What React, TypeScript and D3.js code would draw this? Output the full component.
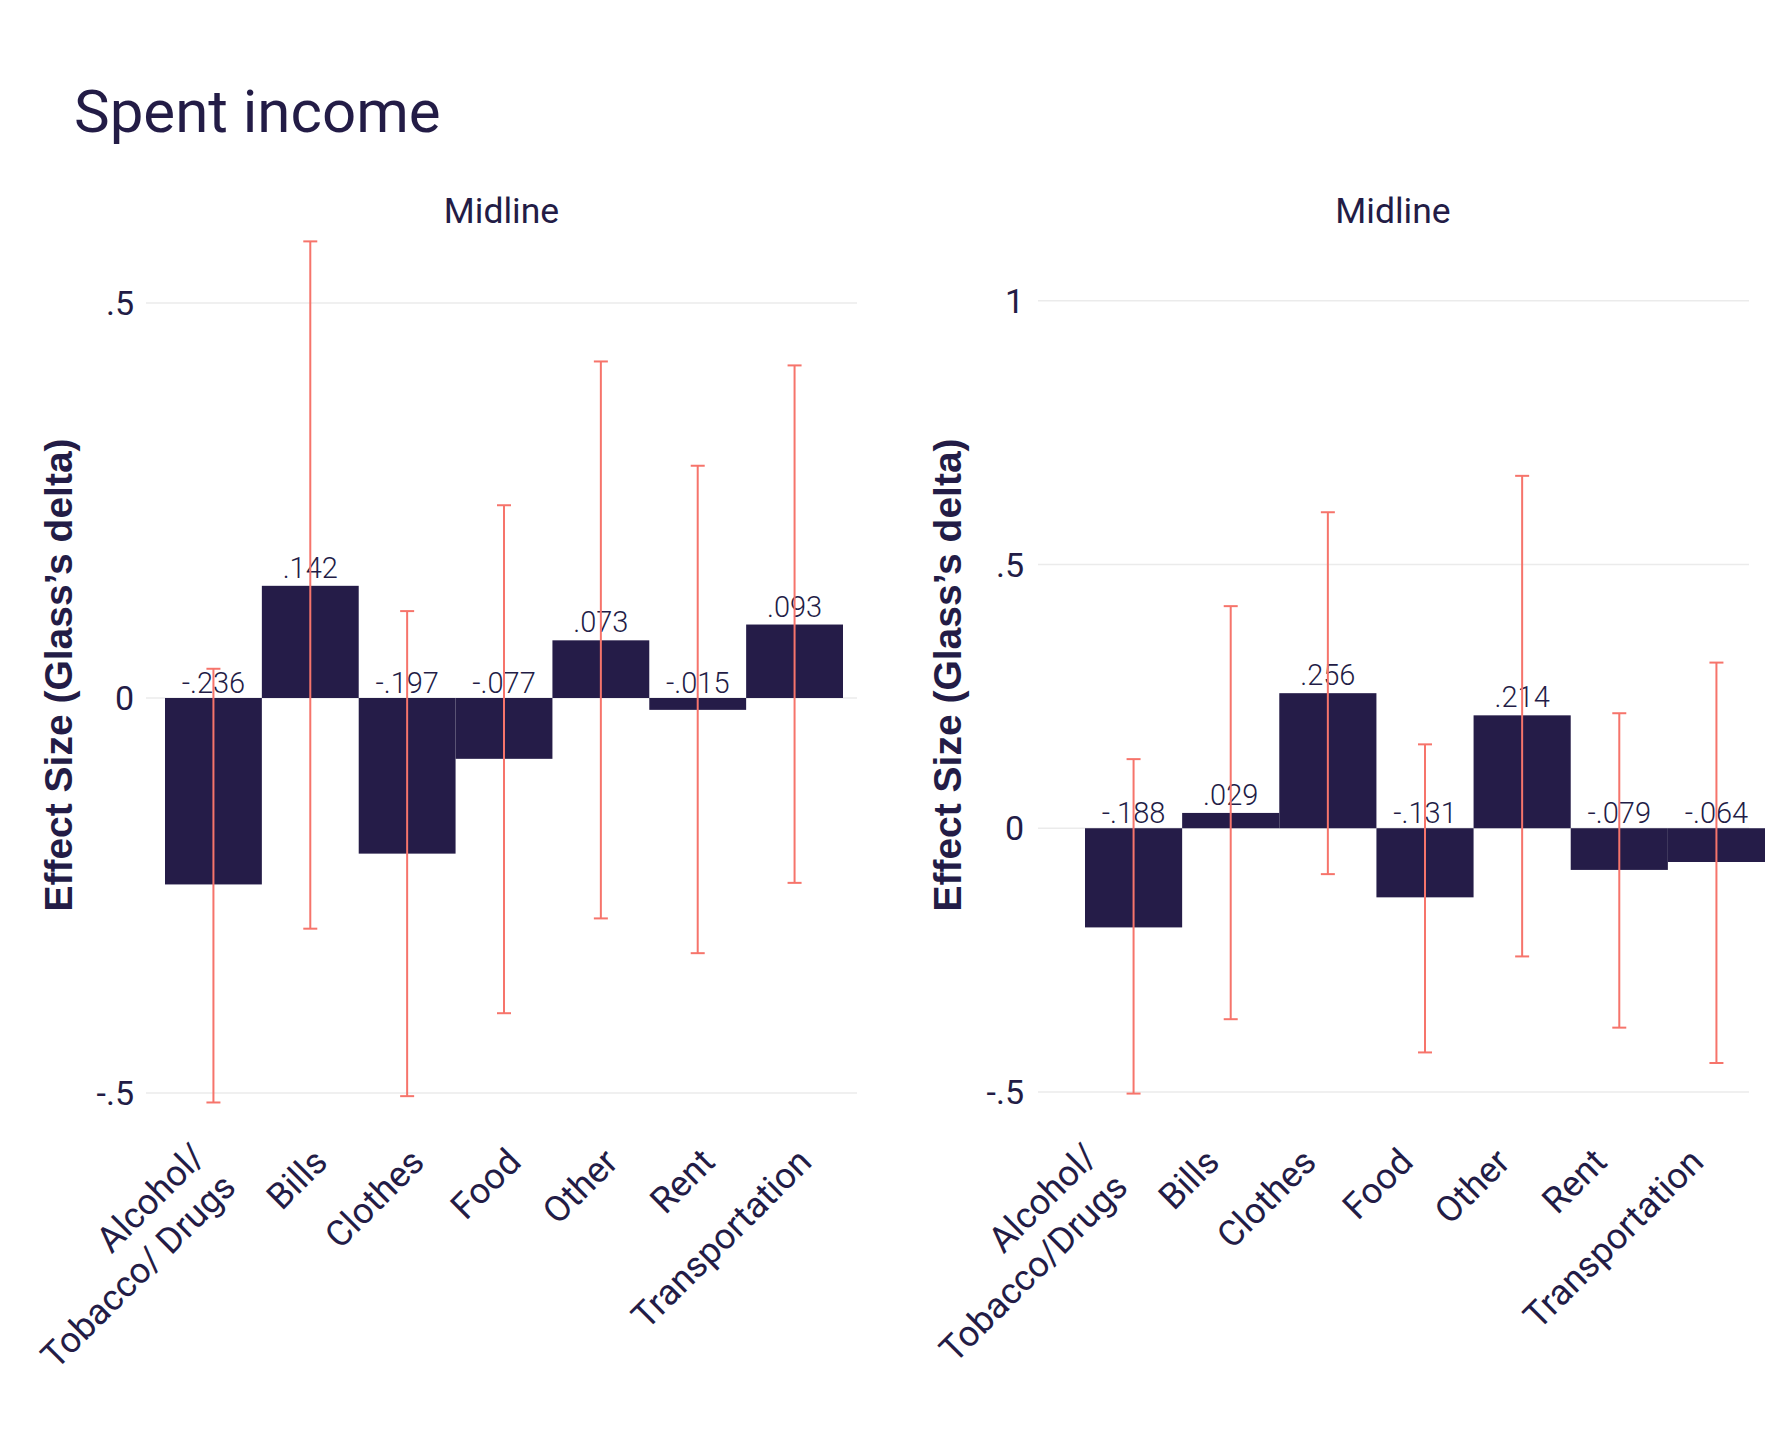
import React from "react";
import * as d3 from "d3";

// ---------- data ----------
const categories = ["Alcohol", "Bills", "Clothes", "Food", "Other", "Rent", "Transportation"];
const leftLabels = [["Alcohol/", "Tobacco/ Drugs"], ["Bills"], ["Clothes"], ["Food"], ["Other"], ["Rent"], ["Transportation"]];
const rightLabels = [["Alcohol/", "Tobacco/Drugs"], ["Bills"], ["Clothes"], ["Food"], ["Other"], ["Rent"], ["Transportation"]];

const leftValues = [-0.236, 0.142, -0.197, -0.077, 0.073, -0.015, 0.093];
const leftLower = [-0.512, -0.292, -0.504, -0.399, -0.279, -0.323, -0.234];
const leftUpper = [0.037, 0.578, 0.110, 0.244, 0.426, 0.294, 0.421];

const rightValues = [-0.188, 0.029, 0.256, -0.131, 0.214, -0.079, -0.064];
const rightLower = [-0.503, -0.362, -0.087, -0.425, -0.243, -0.378, -0.445];
const rightUpper = [0.131, 0.421, 0.599, 0.159, 0.668, 0.218, 0.314];

const leftTicks = [-0.5, 0, 0.5];
const rightTicks = [-0.5, 0, 0.5, 1];

const titleText = "Spent income";
const facetText = "Midline";
const yTitle = "Effect Size (Glass\u2019s delta)";

// ---------- style ----------
const INK = "#231c46";
const BAR = "#251c48";
const ERR = "#f6746b";
const GRID = "#ebebeb";
const FONT = "Roboto, 'Noto Sans', sans-serif";
const BOLD_FONT = "'Liberation Sans', Arial, sans-serif";

const stripZero = (s: string) => s.replace(/\u2212/g, "-").replace(/^(-?)0\./, "$1.");
const fmt = (v: number) => (v === 0 ? "0" : stripZero(d3.format(".3f")(v)));
const fmtTick = (v: number) => (v === 0 ? "0" : stripZero(d3.format("")(v)));

type PanelCfg = {
  values: number[];
  lower: number[];
  upper: number[];
  labels: string[][];
  ticks: number[];
  yDomain: [number, number];
  yRange: [number, number];
  gridX: [number, number];
  barRange: [number, number];
  labelRange: [number, number];
  tickX: number;
  yTitleX: number;
  facetX: number;
};

const panels: PanelCfg[] = [
  {
    values: leftValues,
    lower: leftLower,
    upper: leftUpper,
    labels: leftLabels,
    ticks: leftTicks,
    yDomain: [-0.5, 0.5],
    yRange: [1093, 303],
    gridX: [146, 857],
    barRange: [165, 843],
    labelRange: [165, 843],
    tickX: 134,
    yTitleX: 72,
    facetX: 501.5,
  },
  {
    values: rightValues,
    lower: rightLower,
    upper: rightUpper,
    labels: rightLabels,
    ticks: rightTicks,
    yDomain: [-0.5, 1],
    yRange: [1092, 300.7],
    gridX: [1038, 1749],
    barRange: [1085, 1765],
    labelRange: [1057, 1735],
    tickX: 1024,
    yTitleX: 961,
    facetX: 1393,
  },
];

function Panel({ p }: { p: PanelCfg }) {
  const y = d3.scaleLinear().domain(p.yDomain).range(p.yRange);
  const xb = d3.scaleBand<string>().domain(categories).range(p.barRange).padding(0);
  const xl = d3.scaleBand<string>().domain(categories).range(p.labelRange).padding(0);
  const y0 = y(0);
  const yMid = 675;
  const lineH = 43;
  return (
    <g>
      <text x={p.facetX} y={223} textAnchor="middle" fontFamily={FONT} fontSize={35.5} fill={INK}>
        {facetText}
      </text>
      {p.ticks.map((t) => (
        <g key={t}>
          <line x1={p.gridX[0]} x2={p.gridX[1]} y1={y(t)} y2={y(t)} stroke={GRID} strokeWidth={1.4} />
          <text x={p.tickX} y={y(t)} dy="0.36em" textAnchor="end" fontFamily={FONT} fontSize={34} fill={INK}>
            {fmtTick(t)}
          </text>
        </g>
      ))}
      <text
        transform={`translate(${p.yTitleX},${yMid}) rotate(-90)`}
        textAnchor="middle"
        fontFamily={BOLD_FONT}
        fontWeight={700}
        fontSize={39}
        fill={INK}
      >
        {yTitle}
      </text>
      {categories.map((c, i) => {
        const v = p.values[i];
        const x0 = xb(c)!;
        return (
          <rect key={c} x={x0} width={xb.bandwidth()} y={Math.min(y(v), y0)} height={Math.abs(y(v) - y0)} fill={BAR} />
        );
      })}
      {categories.map((c, i) => {
        const v = p.values[i];
        const cx = xb(c)! + xb.bandwidth() / 2;
        const ly = y(Math.max(v, 0)) - (v > 0 ? 8 : 5);
        return (
          <text key={c} x={cx} y={ly} textAnchor="middle" fontFamily={FONT} fontWeight={300} fontSize={29} fill={INK}>
            {fmt(v)}
          </text>
        );
      })}
      {categories.map((c, i) => {
        const cx = xb(c)! + xb.bandwidth() / 2;
        const yt = y(p.upper[i]);
        const yb = y(p.lower[i]);
        return (
          <g key={c} stroke={ERR} strokeWidth={2}>
            <line x1={cx} x2={cx} y1={yt} y2={yb} />
            <line x1={cx - 7} x2={cx + 7} y1={yt} y2={yt} />
            <line x1={cx - 7} x2={cx + 7} y1={yb} y2={yb} />
          </g>
        );
      })}
      {categories.map((c, i) => {
        const cx = xl(c)! + xl.bandwidth() / 2;
        const lines = p.labels[i];
        const n = lines.length;
        const du = n > 1 ? -14 : 0;
        return (
          <g key={c} transform={`translate(${cx + 19},${1164}) rotate(-45)`}>
            {lines.map((ln, j) => (
              <text
                key={j}
                x={du}
                y={(j - (n - 1) / 2) * lineH}
                textAnchor="end"
                fontFamily={FONT}
                fontSize={36}
                fill={INK}
              >
                {ln}
              </text>
            ))}
          </g>
        );
      })}
    </g>
  );
}

export default function App() {
  return (
    <svg
      width={1786}
      height={1434}
      style={{ position: "absolute", left: 0, top: 0, background: "#ffffff" }}
    >
      <rect x={0} y={0} width={1786} height={1434} fill="#ffffff" />
      <text x={74} y={132} fontFamily={FONT} fontSize={60} fill={INK}>
        {titleText}
      </text>
      {panels.map((p, i) => (
        <Panel key={i} p={p} />
      ))}
    </svg>
  );
}
